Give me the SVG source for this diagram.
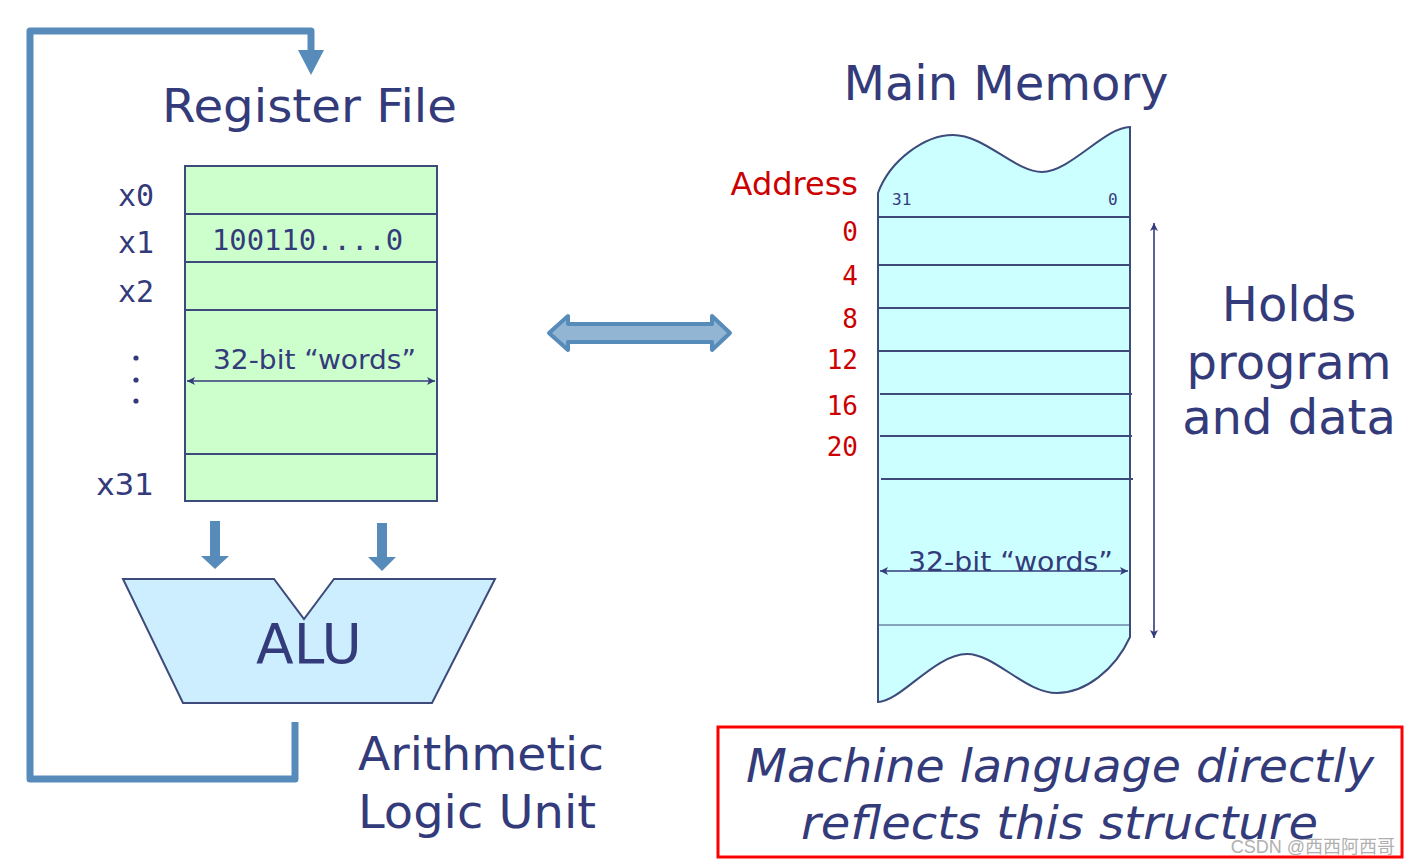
<svg xmlns="http://www.w3.org/2000/svg" width="1411" height="866" viewBox="0 0 1411 866">
<style>
.t{font-family:"DejaVu Sans","Liberation Sans",sans-serif;fill:#343b7b}
.m{font-family:"DejaVu Sans Mono","Liberation Mono",monospace;fill:#343b7b}
.r{font-family:"DejaVu Sans Mono","Liberation Mono",monospace;fill:#cc0000;text-anchor:end}
.ln{stroke:#3d4a7a;stroke-width:2;fill:none}
.fb{fill:#578cba}
</style>
<defs>
<marker id="ah" markerWidth="10" markerHeight="10" refX="9" refY="5" orient="auto-start-reverse" markerUnits="userSpaceOnUse">
<path d="M1,1 L9,5 L1,9 L3,5 Z" fill="#343b7b"/>
</marker>
</defs>
<rect width="1411" height="866" fill="#fff"/>

<g id="connectors">
<path d="M295,722 V779 H30 V31 H311 V52" fill="none" stroke="#578cba" stroke-width="7" stroke-linejoin="round"/>
<polygon class="fb" points="298,50 324,50 311,75"/>
<rect class="fb" x="210" y="521" width="10" height="36"/>
<polygon class="fb" points="201,556 229,556 215,569"/>
<rect class="fb" x="377" y="523" width="10" height="36"/>
<polygon class="fb" points="368,557 396,557 382,571"/>
<polygon points="549,333 568,316 568,324 712,324 712,316 730,333 712,350 712,342 568,342 568,350" fill="#92b5d3" stroke="#578cba" stroke-width="4" stroke-linejoin="round"/>
<line x1="1154" y1="223" x2="1154" y2="638" stroke="#343b7b" stroke-width="1.6" marker-start="url(#ah)" marker-end="url(#ah)"/>
</g>

<g id="register-file">
<text class="t" x="162" y="122" font-size="46" textLength="295" lengthAdjust="spacingAndGlyphs">Register File</text>
<rect x="185" y="166" width="252" height="335" fill="#ccffcc" stroke="#3d4a7a" stroke-width="2"/>
<line class="ln" x1="185" y1="214" x2="437" y2="214"/>
<line class="ln" x1="185" y1="262" x2="437" y2="262"/>
<line class="ln" x1="185" y1="310" x2="437" y2="310"/>
<line class="ln" x1="185" y1="454" x2="437" y2="454"/>
<text class="m" x="154" y="206" font-size="30" text-anchor="end">x0</text>
<text class="m" x="154" y="253" font-size="30" text-anchor="end">x1</text>
<text class="m" x="154" y="302" font-size="30" text-anchor="end">x2</text>
<text class="t" x="154" y="495" font-size="31" text-anchor="end">x31</text>
<circle cx="136" cy="358" r="2.6" fill="#343b7b"/>
<circle cx="136" cy="380" r="2.6" fill="#343b7b"/>
<circle cx="136" cy="401" r="2.6" fill="#343b7b"/>
<text class="m" x="212" y="250" font-size="28" textLength="191" lengthAdjust="spacingAndGlyphs">100110....0</text>
<text class="t" x="213" y="369" font-size="27" textLength="203" lengthAdjust="spacingAndGlyphs">32-bit “words”</text>
<line x1="187" y1="381" x2="435" y2="381" stroke="#343b7b" stroke-width="1.6" marker-start="url(#ah)" marker-end="url(#ah)"/>
</g>

<g id="alu">
<polygon points="123,579 274,579 304,619 334,579 495,579 432,703 183,703" fill="#cceeff" stroke="#3d4a7a" stroke-width="2"/>
<text class="t" x="309" y="663" font-size="55" text-anchor="middle">ALU</text>
<text class="t" x="358" y="770" font-size="47" textLength="246" lengthAdjust="spacingAndGlyphs">Arithmetic</text>
<text class="t" x="358" y="828" font-size="47" textLength="238" lengthAdjust="spacingAndGlyphs">Logic Unit</text>
</g>

<g id="main-memory">
<text class="t" x="1006" y="100" font-size="48" text-anchor="middle">Main Memory</text>
<path d="M878,193 C890,160 925,135 953,135 C985,135 1015,172 1042,172 C1070,172 1105,127 1130,127 V637 C1115,670 1085,693 1057,693 C1025,693 995,654 967,654 C935,654 900,702 878,702 Z" fill="#ccffff" stroke="#3d4a7a" stroke-width="2"/>
<line class="ln" x1="878" y1="217" x2="1130" y2="217"/>
<line class="ln" x1="878" y1="265" x2="1130" y2="265"/>
<line class="ln" x1="878" y1="308" x2="1130" y2="308"/>
<line class="ln" x1="879" y1="351" x2="1131" y2="351"/>
<line class="ln" x1="880" y1="394" x2="1132" y2="394"/>
<line class="ln" x1="880" y1="436" x2="1132" y2="436"/>
<line class="ln" x1="881" y1="479" x2="1133" y2="479"/>
<line x1="878" y1="625" x2="1130" y2="625" stroke="#3d4a7a" stroke-width="1"/>
<text class="m" x="892" y="205" font-size="16">31</text>
<text class="m" x="1108" y="205" font-size="16">0</text>
<text class="t" x="908" y="571" font-size="27" textLength="205" lengthAdjust="spacingAndGlyphs">32-bit “words”</text>
<line x1="880" y1="571" x2="1128" y2="571" stroke="#343b7b" stroke-width="1.6" marker-start="url(#ah)" marker-end="url(#ah)"/>
<text x="858" y="195" font-size="32" fill="#cc0000" text-anchor="end" font-family="DejaVu Sans, Liberation Sans, sans-serif">Address</text>
<text class="r" x="858" y="241" font-size="26">0</text>
<text class="r" x="858" y="285" font-size="26">4</text>
<text class="r" x="858" y="328" font-size="26">8</text>
<text class="r" x="858" y="369" font-size="26">12</text>
<text class="r" x="858" y="415" font-size="26">16</text>
<text class="r" x="858" y="456" font-size="26">20</text>
<text class="t" x="1289" y="321" font-size="48" text-anchor="middle">Holds</text>
<text class="t" x="1289" y="379" font-size="48" text-anchor="middle">program</text>
<text class="t" x="1289" y="434" font-size="48" text-anchor="middle">and data</text>
</g>

<g id="note">
<rect x="718" y="727" width="684" height="130" fill="none" stroke="#ff0000" stroke-width="3"/>
<text class="t" x="746" y="782" font-size="47" font-style="italic" textLength="628" lengthAdjust="spacingAndGlyphs">Machine language directly</text>
<text class="t" x="801" y="839" font-size="47" font-style="italic" textLength="517" lengthAdjust="spacingAndGlyphs">reflects this structure</text>
<text x="1395" y="853" font-size="18" fill="#b0b0b0" text-anchor="end" font-family="Liberation Sans, Noto Sans CJK SC, sans-serif">CSDN @西西阿西哥</text>
</g>
</svg>
